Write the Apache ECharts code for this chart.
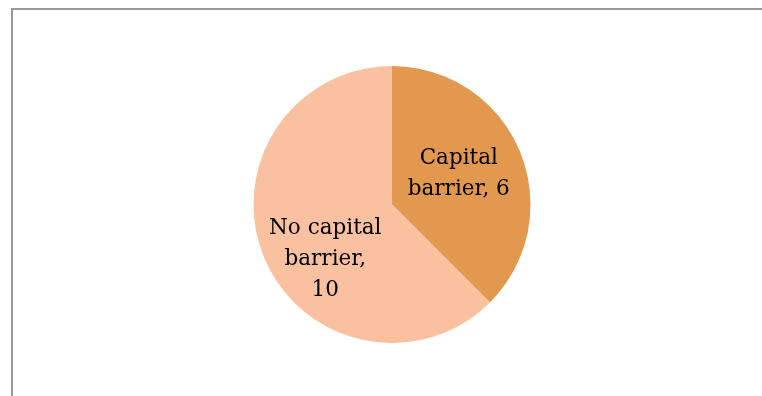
<!DOCTYPE html>
<html>
<head>
<meta charset="utf-8">
<script src="https://cdn.jsdelivr.net/npm/echarts@6/dist/echarts.min.js"></script>
<style>
  html, body { margin: 0; padding: 0; background: #fff; }
  #chart { width: 762px; height: 396px; }
</style>
</head>
<body>
<div id="chart"></div>
<script>
// Slices of the pie, clockwise from 12 o'clock
const categories = ['Capital barrier', 'No capital barrier'];
const values = [6, 10];
const colors = ['#E2984F', '#F9C19F'];
// Wrapped label lines for each slice
const labelLines = [
  ['Capital', 'barrier, 6'],
  ['No capital', 'barrier,', '10']
];
const labelOffsets = [[0, -3], [0, 27]];

const chart = echarts.init(document.getElementById('chart'), null, { renderer: 'canvas' });

chart.setOption({
  animation: false,
  backgroundColor: '#ffffff',
  graphic: [{
    type: 'rect',
    shape: { x: 12, y: 9, width: 800, height: 420 },
    style: { fill: 'none', stroke: '#999999', lineWidth: 2 },
    silent: true
  }],
  series: [{
    type: 'pie',
    center: [392, 204.5],
    radius: [0, 138.5],
    startAngle: 90,
    clockwise: true,
    label: {
      show: true,
      position: 'inside',
      fontFamily: 'DejaVu Serif',
      fontSize: 21.5,
      lineHeight: 31,
      color: '#000000',
      align: 'center'
    },
    labelLine: { show: false },
    itemStyle: { borderWidth: 0 },
    emphasis: { disabled: true },
    data: categories.map((name, i) => ({
      name: name,
      value: values[i],
      itemStyle: { color: colors[i] },
      label: {
        formatter: labelLines[i].join('\n'),
        offset: labelOffsets[i]
      }
    }))
  }]
});
</script>
</body>
</html>
